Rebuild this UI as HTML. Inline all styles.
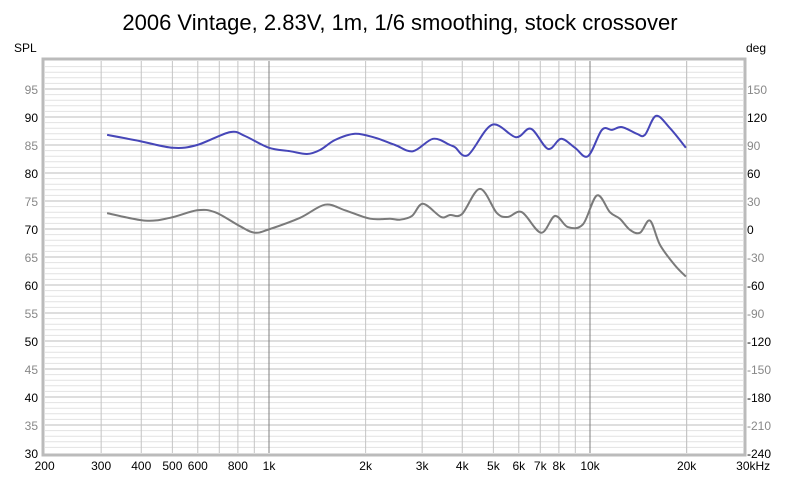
<!DOCTYPE html>
<html><head><meta charset="utf-8"><style>
html,body{margin:0;padding:0;background:#fff;width:800px;height:477px;overflow:hidden}
svg text{font-family:"Liberation Sans",sans-serif}
</style></head><body>
<svg id="c" width="800" height="477" xmlns="http://www.w3.org/2000/svg">
<text x="400" y="30" text-anchor="middle" font-size="22" fill="#000">2006 Vintage, 2.83V, 1m, 1/6 smoothing, stock crossover</text>
<text x="14" y="52" font-size="12" fill="#000">SPL</text>
<text x="746" y="52" font-size="12" fill="#000">deg</text>
<g id="grid"></g><g id="labels"></g><g id="series"></g>
</svg>
<script>
const splFreq=[313,396,502,597,756,842,1000,1162,1313,1442,1606,1853,2139,2470,2810,3243,3663,3796,4167,4950,5877,6548,7398,8125,8977,9858,10891,11710,12580,14000,14830,16060,17750,19900];
const splValues=[86.8,85.7,84.5,85.0,87.3,86.6,84.5,83.9,83.4,84.1,85.9,87.0,86.3,85.0,83.9,86.1,85.0,84.6,83.2,88.6,86.4,87.9,84.3,86.1,84.5,83.0,87.7,87.7,88.2,87.0,86.8,90.2,88.0,84.5];
const phaseFreq=[313,411,492,597,679,812,904,1007,1250,1494,1726,2065,2383,2560,2789,3019,3434,3663,3991,4541,5130,5555,6137,7036,7780,8537,9507,10518,11535,12390,13330,14320,15380,16520,18400,19900];
const phaseValues=[17,9,12,20,18,3,-4,0,12,26,20,11,11,10,14,27,13,15,16,43,17,13,18,-4,14,2,5,36,18,11,-1,-4,9,-17,-39,-51];
const xTickFreqs=[200,300,400,500,600,800,1000,2000,3000,4000,5000,6000,7000,8000,10000,20000,30000];
const xTickLabels=['200','300','400','500','600','800','1k','2k','3k','4k','5k','6k','7k','8k','10k','20k','30kHz'];
const splTicks=[30,35,40,45,50,55,60,65,70,75,80,85,90,95];
const degTicks=[-240,-210,-180,-150,-120,-90,-60,-30,0,30,60,90,120,150];

const L=45,R=743,T=61,B=453;
const x=f=>269+321*(Math.log10(f)-3);
const yS=d=>T+(100-d)*5.6;
const yD=g=>yS(70+g/6);
const NS='http://www.w3.org/2000/svg';
function mk(tag,attrs,parent){const e=document.createElementNS(NS,tag);for(const k in attrs)e.setAttribute(k,attrs[k]);parent.appendChild(e);return e;}
const grid=document.getElementById('grid'),labels=document.getElementById('labels'),series=document.getElementById('series');
const bg=mk('rect',{x:L-2,y:T-2,width:R-L+4,height:B-T+4,fill:'#fff',stroke:'#bbb','stroke-width':3},grid);


for(let d=31;d<100;d++){
  const ln=mk('line',{x1:L,x2:R,y1:yS(d),y2:yS(d),stroke:d%5===0?'#bdbdbd':'#e2e2e2','stroke-width':1},grid);
  
  
}
const vf=[];for(let dec=100;dec<=10000;dec*=10)for(let m=1;m<10;m++){const f=dec*m;if(f>200&&f<30000)vf.push(f);}vf.push(20000);
vf.forEach(f=>{
  const major=(f===1000||f===10000);
  const ln=mk('line',{x1:x(f),x2:x(f),y1:T,y2:B,stroke:major?'#808080':'#c4c4c4','stroke-width':1},grid);
  
  
});
splTicks.forEach(d=>{
  const t=mk('text',{x:38,y:yS(d)+5,'text-anchor':'end','font-size':12,fill:d%10===0?'#000':'#888'},labels);
  t.textContent=d;
  
  
});
degTicks.forEach(g=>{
  const t=mk('text',{x:747,y:yD(g)+5,'font-size':12,fill:g%60===0?'#000':'#888'},labels);
  t.textContent=g;
  
  
});
xTickFreqs.forEach((f,i)=>{
  const t=mk('text',{x:x(f)+(f===30000?10:0),y:470,'text-anchor':'middle','font-size':12,fill:'#000'},labels);
  t.textContent=xTickLabels[i];
  
  
});
function path(pts){
  let d='M'+pts[0][0].toFixed(1)+','+pts[0][1].toFixed(1);
  for(let i=0;i<pts.length-1;i++){
    const p0=pts[i-1]||pts[i],p1=pts[i],p2=pts[i+1],p3=pts[i+2]||p2;
    const c1=[p1[0]+(p2[0]-p0[0])/6,p1[1]+(p2[1]-p0[1])/6],c2=[p2[0]-(p3[0]-p1[0])/6,p2[1]-(p3[1]-p1[1])/6];
    d+='C'+c1.map(v=>v.toFixed(1))+' '+c2.map(v=>v.toFixed(1))+' '+p2.map(v=>v.toFixed(1));
  }
  return d;
}
const pPh=mk('path',{d:path(phaseFreq.map((f,i)=>[x(f),yD(phaseValues[i])])),fill:'none',stroke:'#7a7a7a','stroke-width':2},series);


const pS=mk('path',{d:path(splFreq.map((f,i)=>[x(f),yS(splValues[i])])),fill:'none',stroke:'#4646b8','stroke-width':2},series);


</script>
</body></html>
